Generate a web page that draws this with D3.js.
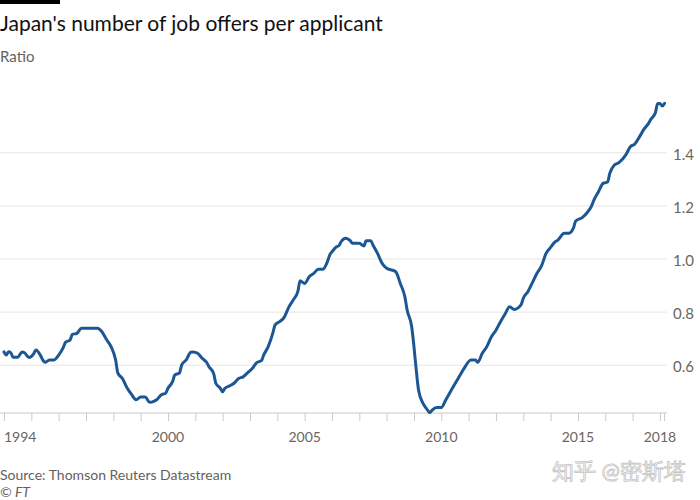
<!DOCTYPE html>
<html><head><meta charset="utf-8">
<script src="https://cdn.jsdelivr.net/npm/d3@7"></script>
<style>
body{margin:0;background:#fff;}
svg text{font-family:Lato, "Open Sans", sans-serif;}
</style>
</head><body>
<svg id="chart" width="700" height="500"></svg>
<script>
// ---- data ----
const dates = ["1994-01","1994-02","1994-03","1994-04","1994-05","1994-07","1994-09","1994-10","1994-12",
"1995-02","1995-03","1995-05","1995-06","1995-07","1995-09","1995-11",
"1996-01","1996-03","1996-04","1996-06","1996-07","1996-09","1996-11",
"1997-06","1997-08","1997-10","1997-12",
"1998-02","1998-03","1998-05","1998-07","1998-09","1998-11",
"1999-01","1999-03","1999-05","1999-07","1999-08","1999-10","1999-12",
"2000-01","2000-03","2000-04","2000-06","2000-07","2000-09","2000-11","2000-12",
"2001-02","2001-04","2001-06","2001-07","2001-09","2001-10","2001-12",
"2002-01","2002-02","2002-04","2002-06","2002-08","2002-10","2002-12",
"2003-02","2003-04","2003-06","2003-07","2003-09","2003-11","2003-12",
"2004-02","2004-04","2004-06","2004-08","2004-10","2004-11",
"2005-01","2005-03","2005-05","2005-07","2005-09","2005-11","2005-12",
"2006-01","2006-03","2006-04","2006-05","2006-07","2006-09","2006-10",
"2007-01","2007-03","2007-04","2007-06","2007-07","2007-09","2007-11",
"2008-01","2008-03","2008-05","2008-07","2008-09","2008-10","2008-12",
"2009-01","2009-02","2009-03","2009-05","2009-07","2009-08","2009-09","2009-11",
"2010-01","2010-03","2010-05","2010-07","2010-09","2010-11",
"2011-02","2011-04","2011-05","2011-07","2011-09","2011-11",
"2012-01","2012-03","2012-05","2012-07","2012-09","2012-12",
"2013-01","2013-03","2013-05","2013-07","2013-09","2013-11",
"2014-01","2014-03","2014-04","2014-07","2014-09","2014-11","2014-12",
"2015-03","2015-05","2015-07","2015-08","2015-10","2015-12",
"2016-02","2016-03","2016-05","2016-07","2016-10","2016-12",
"2017-02","2017-04","2017-06","2017-08","2017-09","2017-11","2017-12",
"2018-01","2018-02","2018-03"];
const ratio = [0.65,0.638,0.651,0.647,0.63,0.63,0.65,0.647,0.629,
0.643,0.657,0.637,0.62,0.611,0.62,0.62,
0.638,0.666,0.686,0.695,0.716,0.72,0.739,
0.739,0.726,0.697,0.67,
0.62,0.57,0.55,0.515,0.49,0.47,
0.48,0.48,0.46,0.465,0.47,0.488,0.495,
0.513,0.538,0.563,0.57,0.60,0.62,0.649,0.65,
0.645,0.626,0.61,0.594,0.57,0.532,0.513,
0.50,0.513,0.522,0.532,0.55,0.556,0.572,
0.588,0.61,0.617,0.638,0.67,0.72,0.751,
0.764,0.78,0.818,0.846,0.877,0.918,
0.908,0.933,0.946,0.961,0.961,0.99,1.015,
1.027,1.046,1.05,1.065,1.078,1.069,1.059,
1.059,1.049,1.069,1.069,1.053,1.021,0.984,
0.965,0.959,0.952,0.908,0.858,0.808,0.745,
0.67,0.582,0.507,0.456,0.431,0.421,0.431,0.441,
0.441,0.47,0.50,0.53,0.559,0.588,
0.62,0.62,0.611,0.645,0.67,0.707,
0.732,0.764,0.793,0.82,0.81,0.827,
0.852,0.877,0.911,0.946,0.974,1.021,
1.044,1.065,1.07,1.097,1.097,1.116,1.143,
1.157,1.174,1.2,1.222,1.253,1.285,
1.29,1.323,1.354,1.363,1.392,1.423,
1.433,1.46,1.489,1.511,1.526,1.551,1.586,
1.586,1.576,1.586];
const yTicks = [0.6, 0.8, 1.0, 1.2, 1.4];
const yTickLabels = ["0.6", "0.8", "1.0", "1.2", "1.4"];
const xTickYears = d3.range(1994, 2019);
const xLabelYears = [1994, 2000, 2005, 2010, 2015, 2018];
const title = "Japan's number of job offers per applicant";
const subtitle = "Ratio";
const source = "Source: Thomson Reuters Datastream";
const credit = "© FT";
const watermark = "知乎 @密斯塔";

// ---- drawing ----
const svg = d3.select("#chart");
const toYear = s => { const [y, m] = s.split("-").map(Number); return y + (m - 1) / 12; };
const data = dates.map((d, i) => ({ t: toYear(d), v: ratio[i] }));

const plotLeft = 0, plotRight = 667, baseY = 413;
const x = d3.scaleLinear().domain([1994, 2018 + 2 / 12]).range([4, 664.5]);
const y = d3.scaleLinear().domain([0.4, 1.6]).range([418.3, 99.7]);

svg.append("rect").attr("x", 0).attr("y", 0).attr("width", 60).attr("height", 4).attr("fill", "#000");
svg.append("text").attr("x", 0).attr("y", 31).attr("font-size", 21).attr("fill", "#111").text(title);
svg.append("text").attr("x", 0).attr("y", 62).attr("font-size", 15).attr("fill", "#66605c").text(subtitle);

// gridlines
svg.append("g").selectAll("line").data(yTicks).join("line")
  .attr("x1", plotLeft).attr("x2", plotRight)
  .attr("y1", d => y(d)).attr("y2", d => y(d))
  .attr("stroke", "#e8e6e4").attr("stroke-width", 1);
svg.append("g").selectAll("text").data(yTicks).join("text")
  .attr("x", 673).attr("y", d => y(d)).attr("dy", "0.45em")
  .attr("font-size", 15).attr("fill", "#6b6560")
  .text((d, i) => yTickLabels[i]);

// x axis
svg.append("line").attr("x1", plotLeft).attr("x2", plotRight).attr("y1", baseY).attr("y2", baseY)
  .attr("stroke", "#cccac8").attr("stroke-width", 1);
const xAxis = d3.axisBottom(x).tickValues(xTickYears).tickSize(8).tickSizeOuter(8).tickFormat("");
const gx = svg.append("g").attr("transform", `translate(0,${baseY})`).call(xAxis);
gx.select(".domain").attr("stroke", "none");
gx.selectAll(".tick line").attr("stroke", "#cccac8");
svg.append("line").attr("x1", x.range()[1]).attr("x2", x.range()[1]).attr("y1", baseY).attr("y2", baseY + 8)
  .attr("stroke", "#cccac8");
svg.append("g").selectAll("text").data(xLabelYears).join("text")
  .attr("x", d => x(d)).attr("y", 442)
  .attr("text-anchor", (d, i) => i === 0 ? "start" : "middle")
  .attr("font-size", 14).attr("fill", "#6b6560").text(d => d);

// line
const line = d3.line().x(d => x(d.t)).y(d => y(d.v)).curve(d3.curveMonotoneX);
svg.append("path").datum(data).attr("d", line)
  .attr("fill", "none").attr("stroke", "#1c5794").attr("stroke-width", 3)
  .attr("stroke-linejoin", "round").attr("stroke-linecap", "round");

// footer
svg.append("text").attr("x", 0).attr("y", 480).attr("font-size", 14).attr("fill", "#66605c").text(source);
svg.append("text").attr("x", 0).attr("y", 497).attr("font-size", 14).attr("font-style", "italic").attr("fill", "#66605c").text(credit);
svg.append("text").attr("x", 686).attr("y", 479).attr("text-anchor", "end")
  .attr("font-family", "'Noto Sans CJK SC', sans-serif").attr("font-size", 22)
  .attr("fill", "#fff").attr("stroke", "#c4c4c4").attr("stroke-width", 0.8).text(watermark);
</script>
</body></html>
